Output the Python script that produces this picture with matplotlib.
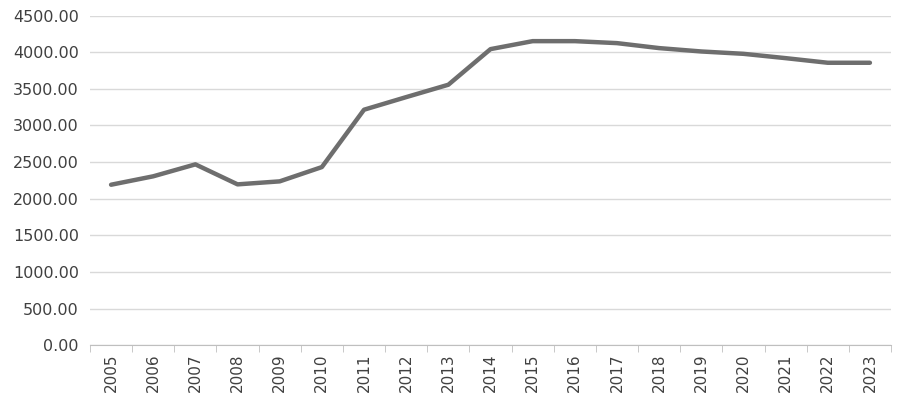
import numpy as np
import matplotlib.pyplot as plt
from matplotlib.ticker import FixedLocator, FuncFormatter

# values
years = [str(y) for y in range(2005, 2024)]
values = [2190, 2305, 2468, 2195, 2236, 2431, 3214, 3386, 3555, 4041,
          4150, 4150, 4123, 4055, 4009, 3977, 3918, 3855, 3855]
y_ticks = [0, 500, 1000, 1500, 2000, 2500, 3000, 3500, 4000, 4500]

fig = plt.figure(figsize=(9, 4.08), dpi=100)
ax = fig.add_axes([0.1, 0.154, 0.89, 0.808])

x = np.arange(len(years))
ax.plot(x, values, color='#6e6e6e', linewidth=3.2, solid_capstyle='round', solid_joinstyle='round', zorder=3)

ax.set_xlim(-0.5, len(years) - 0.5)
ax.set_ylim(0, 4500)
ax.set_yticks(y_ticks)
ax.yaxis.set_major_formatter(FuncFormatter(lambda v, p: f'{v:.2f}'))
ax.grid(axis='y', color='#d9d9d9', linewidth=1)
ax.set_axisbelow(True)

ax.set_xticks(x)
ax.set_xticklabels(years, rotation=90)
ax.xaxis.set_minor_locator(FixedLocator(np.arange(-0.5, len(years), 1)))
ax.tick_params(axis='x', which='major', length=0, pad=6, labelsize=11, labelcolor='#404040')
ax.tick_params(axis='x', which='minor', length=5, color='#bfbfbf', direction='out')
ax.tick_params(axis='y', length=0, pad=8, labelsize=11.5, labelcolor='#404040')

for s in ['top', 'right', 'left']:
    ax.spines[s].set_visible(False)
ax.spines['bottom'].set_color('#bfbfbf')

fig.savefig('out.png', dpi=100)
